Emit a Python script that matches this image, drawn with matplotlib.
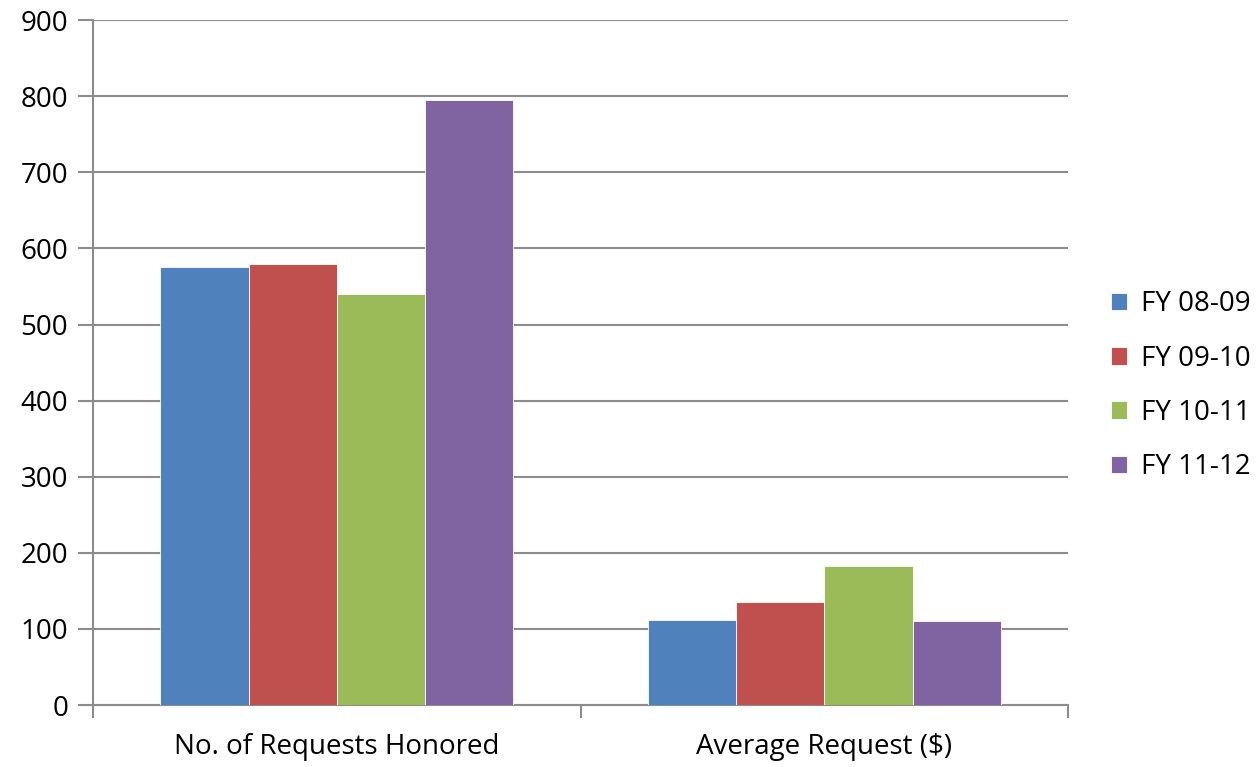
import matplotlib.pyplot as plt
import numpy as np

plt.rcParams['font.family'] = ['Open Sans', 'DejaVu Sans']

categories = ["No. of Requests Honored", "Average Request ($)"]
series = ["FY 08-09", "FY 09-10", "FY 10-11", "FY 11-12"]
values = {
    "FY 08-09": [575, 112],
    "FY 09-10": [580, 135],
    "FY 10-11": [540, 183],
    "FY 11-12": [795, 111],
}
colors = ["#4f81bd", "#c0504d", "#9bbb59", "#8064a2"]

fig = plt.figure(figsize=(12.59, 7.67), dpi=100)
ax = fig.add_axes([0.0739, 0.0808, 0.7745, 0.893])

x = np.arange(len(categories))
w = 0.181
for i, (name, c) in enumerate(zip(series, colors)):
    ax.bar(x + (i - 1.5) * w, values[name], w, color=c, label=name,
           edgecolor="white", linewidth=0.6, zorder=3)

ax.set_xlim(-0.5, 1.5)
ax.set_ylim(0, 900)
ax.set_yticks(range(0, 901, 100))
ax.yaxis.grid(True, color="#8c8c8c", linewidth=1.5, zorder=0)

ax.set_xticks(x)
ax.set_xticklabels(categories)
ax.set_xticks([-0.5, 0.5, 1.5], minor=True)
ax.tick_params(axis="x", which="major", length=0, pad=20, labelsize=20)
ax.tick_params(axis="x", which="minor", length=9, color="#8c8c8c", width=1.5)
ax.tick_params(axis="y", length=11, color="#8c8c8c", width=1.5, labelsize=20, pad=7)

for s in ["top", "right"]:
    ax.spines[s].set_visible(False)
for s in ["left", "bottom"]:
    ax.spines[s].set_color("#8c8c8c")
    ax.spines[s].set_linewidth(1.5)

ax.legend(loc="center left", bbox_to_anchor=(1.018, 0.466), frameon=False,
          fontsize=20, handlelength=0.6, handleheight=0.6, labelspacing=0.95,
          handletextpad=0.5)

fig.savefig("out.png", dpi=100)
